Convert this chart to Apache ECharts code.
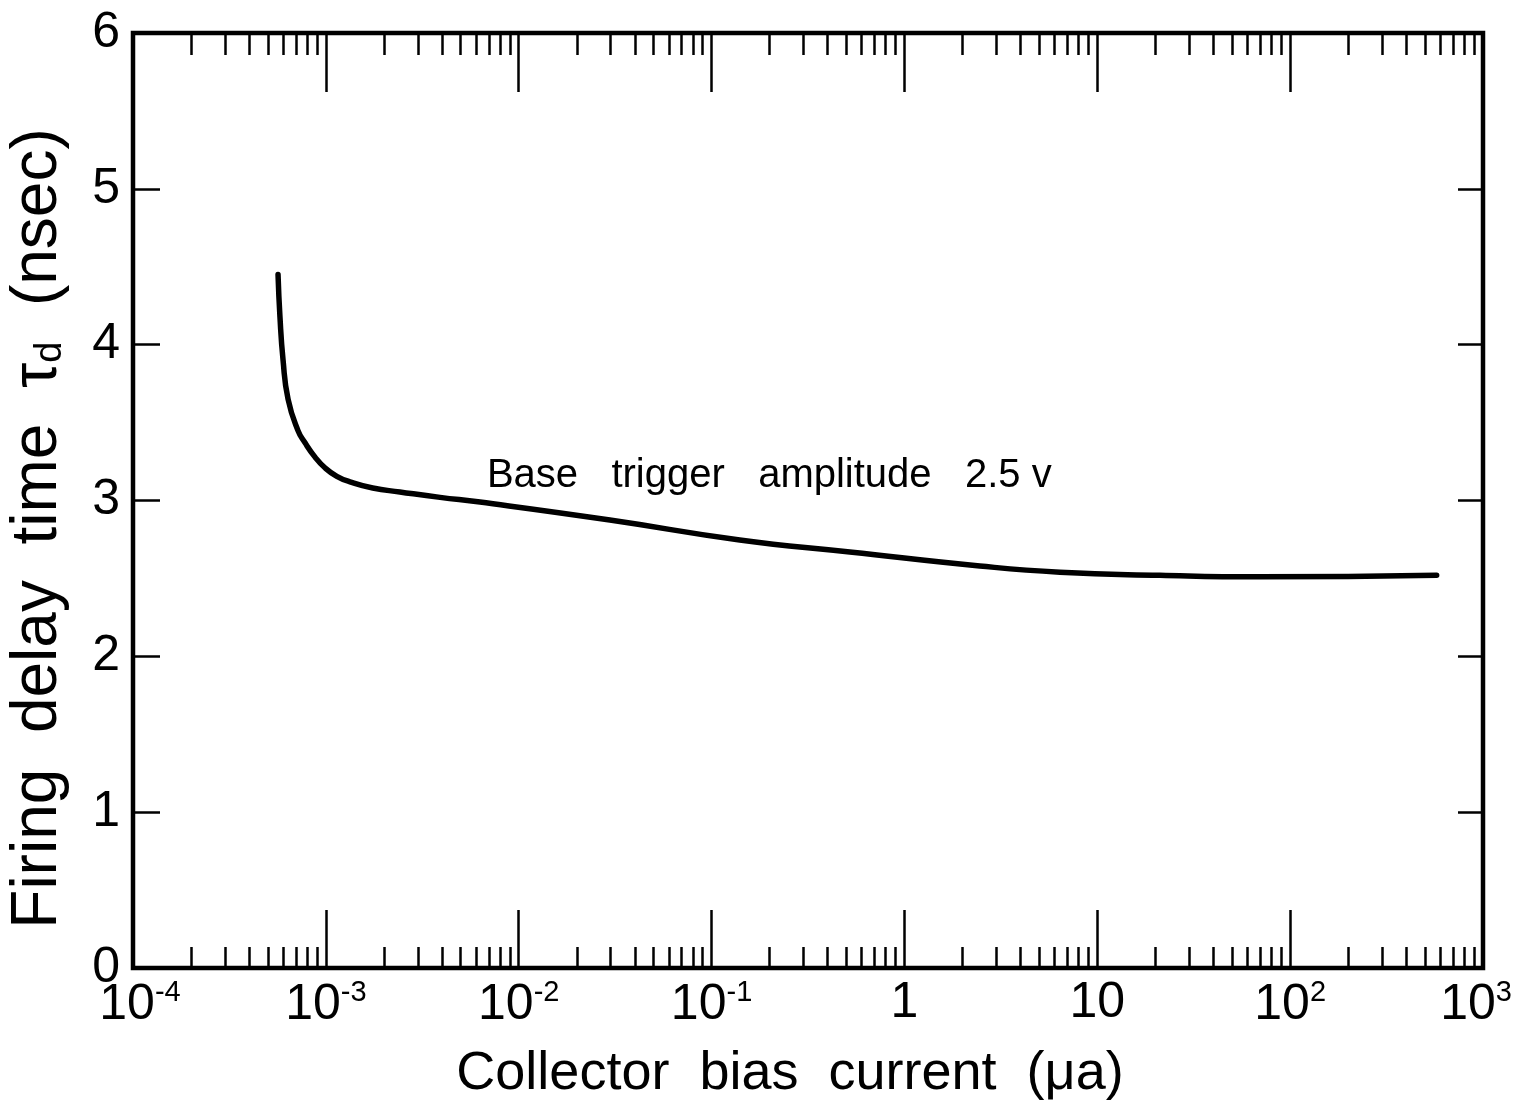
<!DOCTYPE html>
<html><head><meta charset="utf-8">
<script src="https://cdn.jsdelivr.net/npm/echarts@6/dist/echarts.min.js"></script>
<style>html,body{margin:0;padding:0;background:#fff}#c{width:1517px;height:1115px}</style>
</head><body><div id="c"></div>
<script>
// Data
const currentUA = [5.65e-4, 5.78e-4, 6.0e-4, 6.37e-4, 7.16e-4, 7.80e-4, 8.77e-4, 9.89e-4, 1.14e-3, 1.333e-3, 1.75e-3, 2.42e-3, 3.91e-3, 6.30e-3, 0.0297, 0.140, 0.521, 2.46, 6.40, 21.1, 69.5, 575];
const delayNs   = [4.45, 4.18, 3.90, 3.65, 3.45, 3.37, 3.28, 3.21, 3.155, 3.12, 3.08, 3.055, 3.02, 2.99, 2.875, 2.747, 2.67, 2.58, 2.54, 2.52, 2.51, 2.52];
const decadeExponents = [-4, -3, -2, -1, 0, 1, 2, 3];
const minorMultipliers = [2, 3, 4, 5, 6, 7, 8, 9];
const yTickValues = [0, 1, 2, 3, 4, 5, 6];
const annotationText = 'Base   trigger   amplitude   2.5 v';
const annotationAt = [6.84e-3, 3.16];
const xTitle = 'Collector  bias  current  (\u03bca)';
const yTitleParts = ['Firing  delay  time  ', '\u03c4', 'd', '  (nsec)'];

const FONT = 'Liberation Sans';
const minorLogPositions = [];
decadeExponents.slice(0, -1).forEach(e => minorMultipliers.forEach(m => minorLogPositions.push(e + Math.log10(m))));

function xLabel(v) {
  const e = Math.round(Math.log10(v));
  if (e === 0) return '1';
  if (e === 1) return '10';
  let s = '{b|10}{s|' + e + '}';
  if (e === decadeExponents[0]) s = '{p| }' + s;
  if (e === decadeExponents[decadeExponents.length - 1]) s = s + '{p| }';
  return s;
}

const chart = echarts.init(document.getElementById('c'));
const tickStyle = { color: '#000', width: 2.5 };
const noLine = { show: false, onZero: false };
chart.setOption({
  backgroundColor: '#fff',
  animation: false,
  grid: { left: 133, right: 34, top: 33, bottom: 147, show: true, borderColor: '#000', borderWidth: 4.5,
    backgroundColor: 'transparent', containLabel: false, outerBoundsMode: 'none' },
  xAxis: [
    {
      type: 'log', logBase: 10, min: 1e-4, max: 1e3, interval: 1, splitNumber: 7, position: 'bottom',
      axisLine: noLine, splitLine: { show: false },
      axisTick: { show: true, inside: true, length: 58, lineStyle: tickStyle },
      axisLabel: {
        show: true, margin: 10, formatter: xLabel, color: '#000', fontFamily: FONT, fontSize: 50,
        rich: {
          b: { fontFamily: FONT, fontSize: 50, color: '#000', verticalAlign: 'bottom', lineHeight: 52 },
          s: { fontFamily: FONT, fontSize: 29, color: '#000', verticalAlign: 'top', lineHeight: 22 },
          p: { fontFamily: FONT, fontSize: 10, width: 14, color: 'transparent' }
        }
      },
      name: xTitle, nameLocation: 'middle', nameGap: 79,
      nameTextStyle: { fontFamily: FONT, fontSize: 54, color: '#000', padding: [0, 36, 0, 0] }
    },
    {
      type: 'log', logBase: 10, min: 1e-4, max: 1e3, interval: 1, splitNumber: 7, position: 'top',
      axisLine: noLine, splitLine: { show: false }, axisLabel: { show: false },
      axisTick: { show: true, inside: true, length: 59, lineStyle: tickStyle }
    },
    {
      type: 'value', min: -4, max: 3, position: 'bottom',
      axisLine: noLine, splitLine: { show: false }, axisLabel: { show: false },
      axisTick: { show: true, inside: true, length: 21, customValues: minorLogPositions, lineStyle: tickStyle }
    },
    {
      type: 'value', min: -4, max: 3, position: 'top',
      axisLine: noLine, splitLine: { show: false }, axisLabel: { show: false },
      axisTick: { show: true, inside: true, length: 22, customValues: minorLogPositions, lineStyle: tickStyle }
    }
  ],
  yAxis: [
    {
      type: 'value', min: 0, max: 6, interval: 1, position: 'left',
      axisLine: noLine, splitLine: { show: false },
      axisTick: { show: true, inside: true, length: 27, lineStyle: tickStyle },
      axisLabel: { show: true, margin: 13, color: '#000', fontFamily: FONT, fontSize: 50,
        formatter: v => (yTickValues.indexOf(v) >= 0 ? String(v) : '') },
      name: '{a|' + yTitleParts[0] + '}{t|' + yTitleParts[1] + '}{d|' + yTitleParts[2] + '}{a|' + yTitleParts[3] + '}',
      nameLocation: 'middle', nameGap: 63,
      nameTextStyle: {
        fontFamily: FONT, fontSize: 64, color: '#000', padding: [0, 56, 0, 0],
        rich: {
          a: { fontFamily: FONT, fontSize: 64, color: '#000', verticalAlign: 'bottom', lineHeight: 66 },
          t: { fontFamily: FONT, fontSize: 64, color: '#000', verticalAlign: 'bottom', lineHeight: 66 },
          d: { fontFamily: FONT, fontSize: 38, color: '#000', verticalAlign: 'bottom', lineHeight: 48 }
        }
      }
    },
    {
      type: 'value', min: 0, max: 6, interval: 1, position: 'right',
      axisLine: noLine, splitLine: { show: false }, axisLabel: { show: false },
      axisTick: { show: true, inside: true, length: 25, lineStyle: tickStyle }
    }
  ],
  series: [
    {
      type: 'line', xAxisIndex: 0, yAxisIndex: 0,
      data: currentUA.map((x, i) => [x, delayNs[i]]),
      smooth: 0.5, showSymbol: false, symbol: 'none',
      lineStyle: { color: '#000', width: 5.5, cap: 'round', join: 'round' }
    },
    {
      type: 'scatter', xAxisIndex: 0, yAxisIndex: 0, silent: true,
      data: [annotationAt], symbolSize: 0, itemStyle: { opacity: 1, color: '#000' },
      label: { show: true, position: 'right', distance: 0, formatter: annotationText, opacity: 1,
        color: '#000', fontFamily: FONT, fontSize: 40 }
    }
  ]
});
</script></body></html>
